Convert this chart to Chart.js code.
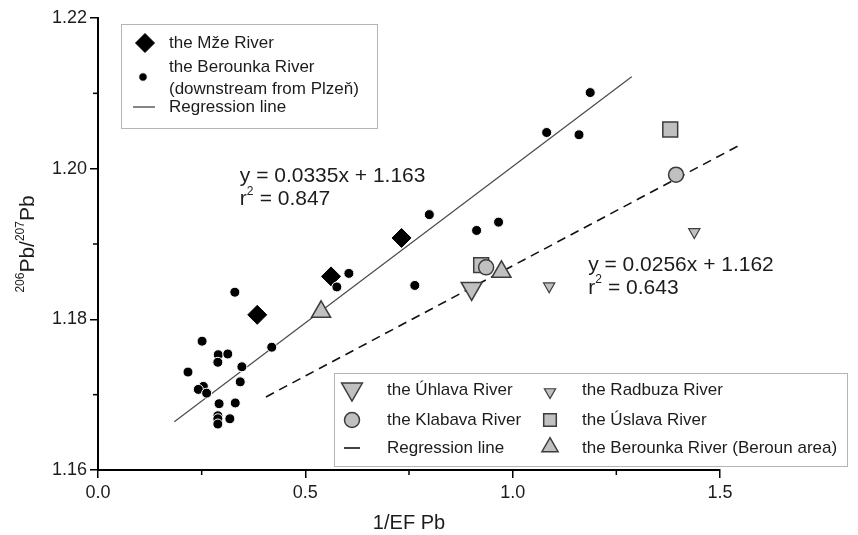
<!DOCTYPE html>
<html>
<head>
<meta charset="utf-8">
<script src="https://cdn.jsdelivr.net/npm/chart.js@4"></script>
<style>
  html, body { margin: 0; padding: 0; background: #fff; }
</style>
</head>
<body>
<canvas id="chart" width="858" height="535"></canvas>
<script>
// the Berounka River (downstream from Plzeň)
const berounkaX = [0.251, 0.290, 0.313, 0.289, 0.217, 0.347, 0.343, 0.254, 0.242, 0.262, 0.292, 0.331, 0.289, 0.289, 0.289, 0.318, 0.419, 0.330, 0.576, 0.605, 0.799, 0.913, 0.966, 0.764, 1.082, 1.160, 1.187];
const berounkaY = [1.1771, 1.1753, 1.1754, 1.1743, 1.1730, 1.1737, 1.1717, 1.1711, 1.1707, 1.1702, 1.1688, 1.1689, 1.1672, 1.1668, 1.1661, 1.1668, 1.1763, 1.1836, 1.1843, 1.1861, 1.1939, 1.1918, 1.1929, 1.1845, 1.2048, 1.2045, 1.2101];
// the Mže River
const mzeX = [0.384, 0.562, 0.732];
const mzeY = [1.1806, 1.1857, 1.1908];
// gray groups
const uhlavaX = [0.901];
const uhlavaY = [1.1841];
const radbuzaX = [1.088, 1.438];
const radbuzaY = [1.1844, 1.1916];
const klabavaX = [0.936, 1.394];
const klabavaY = [1.1869, 1.1992];
const uslavaX = [0.924, 1.380];
const uslavaY = [1.1872, 1.2052];
const berounX = [0.538, 0.973];
const berounY = [1.1810, 1.1863];
// regression lines (end points as drawn)
const regSolidX = [0.184, 1.287];
const regSolidY = [1.1664, 1.2122];
const regDashX = [0.405, 1.550];
const regDashY = [1.1697, 1.2032];
// axis ticks
const xMinorTicks = [0.25, 0.75, 1.25];
const yMinorTicks = [1.17, 1.19, 1.21];

const pts = (xs, ys) => xs.map((x, i) => ({ x: x, y: ys[i] }));

const GRAY = '#c0c0c0', EDGE = '#3c3c3c', TXT = '#1c1c1c';
const FONT = "'Liberation Sans', Arial, sans-serif";

const styles = {
  berounka: { pointStyle: 'circle', radius: 5, rotation: 0, bg: '#000', border: '#fff', bw: 1 },
  mze: { pointStyle: 'rectRot', radius: 9.5, rotation: 0, bg: '#000', border: '#000', bw: 1 },
  uhlava: { pointStyle: 'triangle', radius: 12, rotation: 180, bg: GRAY, border: EDGE, bw: 1.5 },
  radbuza: { pointStyle: 'triangle', radius: 6.5, rotation: 180, bg: GRAY, border: EDGE, bw: 1.2 },
  klabava: { pointStyle: 'circle', radius: 7.5, rotation: 0, bg: GRAY, border: EDGE, bw: 1.5 },
  uslava: { pointStyle: 'rect', radius: 10.5, rotation: 0, bg: GRAY, border: EDGE, bw: 1.5 },
  beroun: { pointStyle: 'triangle', radius: 11, rotation: 0, bg: GRAY, border: EDGE, bw: 1.5 }
};

function pointSet(label, xs, ys, s) {
  return {
    label: label,
    data: pts(xs, ys),
    pointStyle: s.pointStyle,
    pointRadius: s.radius,
    rotation: s.rotation,
    backgroundColor: s.bg,
    borderColor: s.border,
    borderWidth: s.bw,
    showLine: false,
    clip: false,
    order: 1
  };
}

function marker(ctx, s, x, y, scale) {
  ctx.save();
  ctx.fillStyle = s.bg;
  ctx.strokeStyle = s.border;
  ctx.lineWidth = s.bw;
  Chart.helpers.drawPoint(ctx, {
    pointStyle: s.pointStyle, rotation: s.rotation,
    radius: s.radius * (scale || 1), borderWidth: s.bw
  }, x, y);
  ctx.restore();
}

function r2(ctx, x, y, rest) {
  ctx.font = '21px ' + FONT;
  ctx.fillText('r', x, y);
  const w = ctx.measureText('r').width;
  ctx.font = '12px ' + FONT;
  ctx.fillText('2', x + w, y - 8);
  ctx.font = '21px ' + FONT;
  ctx.fillText(rest, x + w + 7, y);
}

const extras = {
  id: 'extras',
  afterDraw(chart) {
    const ctx = chart.ctx;
    const xs = chart.scales.x, ys = chart.scales.y;
    const area = chart.chartArea;
    ctx.save();
    // minor ticks
    ctx.strokeStyle = '#000';
    ctx.lineWidth = 1.5;
    xMinorTicks.forEach(v => {
      const p = xs.getPixelForValue(v);
      ctx.beginPath(); ctx.moveTo(p, area.bottom); ctx.lineTo(p, area.bottom + 5); ctx.stroke();
    });
    yMinorTicks.forEach(v => {
      const p = ys.getPixelForValue(v);
      ctx.beginPath(); ctx.moveTo(area.left - 5, p); ctx.lineTo(area.left, p); ctx.stroke();
    });

    // y axis title with superscripts
    ctx.fillStyle = TXT;
    ctx.textBaseline = 'middle';
    ctx.textAlign = 'left';
    ctx.save();
    ctx.translate(28, (area.top + area.bottom) / 2);
    ctx.rotate(-Math.PI / 2);
    const parts = [['206', 12, -7], ['Pb/', 21, 0], ['207', 12, -7], ['Pb', 21, 0]];
    let total = 0;
    parts.forEach(p => { ctx.font = p[1] + 'px ' + FONT; total += ctx.measureText(p[0]).width; });
    let cx = -total / 2;
    parts.forEach(p => {
      ctx.font = p[1] + 'px ' + FONT;
      ctx.fillText(p[0], cx, p[2]);
      cx += ctx.measureText(p[0]).width;
    });
    ctx.restore();

    // regression equations
    let ex = xs.getPixelForValue(0.342), ey = ys.getPixelForValue(1.1990);
    ctx.font = '21px ' + FONT;
    ctx.fillText('y = 0.0335x + 1.163', ex, ey);
    r2(ctx, ex, ey + 23, ' = 0.847');
    ex = xs.getPixelForValue(1.182); ey = ys.getPixelForValue(1.1872);
    ctx.font = '21px ' + FONT;
    ctx.fillText('y = 0.0256x + 1.162', ex, ey);
    r2(ctx, ex, ey + 23, ' = 0.643');

    // legend 1
    ctx.strokeStyle = '#b4b4b4';
    ctx.lineWidth = 1;
    ctx.strokeRect(121.5, 24.5, 256, 104);
    ctx.font = '17px ' + FONT;
    ctx.fillStyle = TXT;
    marker(ctx, styles.mze, 145, 43);
    ctx.fillText('the Mže River', 169, 43);
    marker(ctx, styles.berounka, 143, 77, 0.85);
    ctx.fillStyle = TXT;
    ctx.fillText('the Berounka River', 169, 67);
    ctx.fillText('(downstream from Plzeň)', 169, 89);
    ctx.strokeStyle = '#333';
    ctx.lineWidth = 1.2;
    ctx.beginPath(); ctx.moveTo(133, 107); ctx.lineTo(155, 107); ctx.stroke();
    ctx.fillText('Regression line', 169, 107);

    // legend 2
    ctx.strokeStyle = '#b4b4b4';
    ctx.lineWidth = 1;
    ctx.strokeRect(334.5, 373.5, 513, 93);
    marker(ctx, styles.uhlava, 352, 389);
    marker(ctx, styles.klabava, 352, 420);
    ctx.strokeStyle = '#111';
    ctx.lineWidth = 1.6;
    ctx.beginPath(); ctx.moveTo(344, 448); ctx.lineTo(360, 448); ctx.stroke();
    marker(ctx, styles.radbuza, 550, 392);
    marker(ctx, styles.uslava, 550, 420, 0.85);
    marker(ctx, styles.beroun, 550, 447, 0.85);
    ctx.fillStyle = TXT;
    ctx.font = '17px ' + FONT;
    ctx.fillText('the Úhlava River', 387, 390);
    ctx.fillText('the Klabava River', 387, 420);
    ctx.fillText('Regression line', 387, 448);
    ctx.fillText('the Radbuza River', 582, 390);
    ctx.fillText('the Úslava River', 582, 420);
    ctx.fillText('the Berounka River (Beroun area)', 582, 448);
    ctx.restore();
  }
};

new Chart(document.getElementById('chart'), {
  type: 'scatter',
  data: {
    datasets: [
      {
        label: 'Regression line (Mže, Berounka)',
        data: pts(regSolidX, regSolidY),
        showLine: true, borderColor: '#4a4a4a', borderWidth: 1.2,
        pointRadius: 0, clip: false, order: 5
      },
      {
        label: 'Regression line (other rivers)',
        data: pts(regDashX, regDashY),
        showLine: true, borderColor: '#111', borderWidth: 1.6, borderDash: [9, 6],
        pointRadius: 0, clip: false, order: 5
      },
      pointSet('the Berounka River (downstream from Plzeň)', berounkaX, berounkaY, styles.berounka),
      pointSet('the Mže River', mzeX, mzeY, styles.mze),
      pointSet('the Úhlava River', uhlavaX, uhlavaY, styles.uhlava),
      pointSet('the Radbuza River', radbuzaX, radbuzaY, styles.radbuza),
      pointSet('the Klabava River', klabavaX, klabavaY, styles.klabava),
      pointSet('the Úslava River', uslavaX, uslavaY, styles.uslava),
      pointSet('the Berounka River (Beroun area)', berounX, berounY, styles.beroun)
    ]
  },
  options: {
    responsive: false,
    animation: false,
    events: [],
    layout: { padding: { top: 18, right: 138, left: 0, bottom: 0 } },
    plugins: { legend: { display: false }, tooltip: { enabled: false } },
    scales: {
      x: {
        type: 'linear', min: 0, max: 1.5,
        afterFit: s => { s.height = 65; },
        ticks: {
          stepSize: 0.5, color: TXT, padding: 4,
          font: { family: FONT, size: 18 },
          callback: v => v.toFixed(1)
        },
        grid: { drawOnChartArea: false, tickLength: 8, color: '#000', lineWidth: 1.5 },
        border: { color: '#000', width: 2 },
        title: { display: true, text: '1/EF Pb', color: TXT, font: { family: FONT, size: 20 }, padding: 0 }
      },
      y: {
        type: 'linear', min: 1.16, max: 1.22,
        afterFit: s => { s.width = 98; },
        ticks: {
          stepSize: 0.02, color: TXT, padding: 3,
          font: { family: FONT, size: 18 },
          callback: v => v.toFixed(2)
        },
        grid: { drawOnChartArea: false, tickLength: 8, color: '#000', lineWidth: 1.5 },
        border: { color: '#000', width: 2 }
      }
    }
  },
  plugins: [extras]
});
</script>
</body>
</html>
